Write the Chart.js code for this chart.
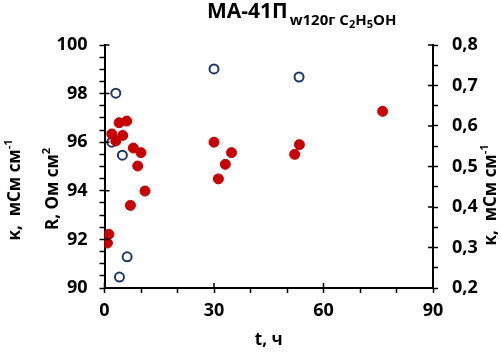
<!DOCTYPE html>
<html>
<head>
<meta charset="utf-8">
<script src="https://cdn.jsdelivr.net/npm/chart.js@4.4.1/dist/chart.umd.min.js"></script>
<style>
  html, body { margin: 0; padding: 0; background: #fff; }
  #wrap { width: 502px; height: 352px; position: relative; }
</style>
</head>
<body>
<div id="wrap"><canvas id="chart"></canvas></div>
<script>
// R, Ом см2 (left axis) vs t, ч
const timeR = [0.8, 1.2, 2.0, 3.1, 4.0, 5.0, 6.1, 7.1, 7.9, 9.1, 10.0, 11.1, 30.0, 31.2, 33.1, 34.8, 52.1, 53.4, 76.2];
const resist = [91.85, 92.21, 96.34, 96.05, 96.80, 96.28, 96.87, 93.40, 95.76, 95.02, 95.57, 93.99, 96.0, 94.49, 95.09, 95.57, 95.50, 95.90, 97.27];

// κ, мСм см-1 (right axis) vs t, ч
const timeK = [2.0, 3.1, 4.1, 4.9, 6.2, 30.0, 53.3];
const kappa = [0.560, 0.681, 0.227, 0.528, 0.277, 0.741, 0.721];

// major tick values
const xMajor = [0, 30, 60, 90];
const yMajor = [90, 92, 94, 96, 98, 100];
const y2Major = [0.2, 0.3, 0.4, 0.5, 0.6, 0.7, 0.8];

const FONT = "'Open Sans', sans-serif";
Chart.defaults.font.family = FONT;
Chart.defaults.color = '#000';

const toPts = (xs, ys) => xs.map((x, i) => ({ x: x, y: ys[i] }));

// title with subscripts, rotated axis labels with superscripts, inner halves of major ticks
const extras = {
    id: 'extras',
    afterDraw(chart) {
        const ctx = chart.ctx;
        const { x, y, y2 } = chart.scales;
        ctx.save();
        ctx.fillStyle = '#000';
        ctx.textBaseline = 'alphabetic';

        // title
        let px = 207;
        ctx.font = 'bold 21px ' + FONT;
        ctx.fillText('МА-41П', px, 18);
        px += ctx.measureText('МА-41П').width + 2;
        const parts = [['w120г C', 15, 25], ['2', 11, 28], ['H', 15, 25], ['5', 11, 28], ['OH', 15, 25]];
        parts.forEach(p => {
            ctx.font = 'bold ' + p[1] + 'px ' + FONT;
            ctx.fillText(p[0], px, p[2]);
            px += ctx.measureText(p[0]).width;
        });

        // rotated label: main text + superscript, centred on (cx, cy)
        const vLabel = (cx, cy, main, sup) => {
            ctx.save();
            ctx.translate(cx, cy);
            ctx.rotate(-Math.PI / 2);
            ctx.textBaseline = 'middle';
            ctx.font = 'bold 17px ' + FONT;
            const w1 = ctx.measureText(main).width;
            ctx.font = 'bold 11px ' + FONT;
            const w2 = ctx.measureText(sup).width;
            ctx.font = 'bold 17px ' + FONT;
            ctx.fillText(main, -(w1 + w2) / 2, 0);
            ctx.font = 'bold 11px ' + FONT;
            ctx.fillText(sup, -(w1 + w2) / 2 + w1, -6);
            ctx.restore();
        };
        vLabel(15, 190, 'κ,  мСм см', '-1');
        vLabel(53, 189, 'R, Ом см', '2');
        vLabel(491, 195, 'κ,  мСм см', '-1');

        // inner halves of major ticks
        ctx.strokeStyle = '#000';
        ctx.lineWidth = 1.5;
        ctx.beginPath();
        xMajor.forEach(v => {
            const p = x.getPixelForValue(v);
            ctx.moveTo(p, chart.chartArea.bottom);
            ctx.lineTo(p, chart.chartArea.bottom - 5);
        });
        yMajor.forEach(v => {
            const p = y.getPixelForValue(v);
            ctx.moveTo(chart.chartArea.left, p);
            ctx.lineTo(chart.chartArea.left + 5, p);
        });
        y2Major.forEach(v => {
            const p = y2.getPixelForValue(v);
            ctx.moveTo(chart.chartArea.right, p);
            ctx.lineTo(chart.chartArea.right - 5, p);
        });
        ctx.stroke();
        ctx.restore();
    }
};

const tickFont = { size: 18, weight: 'bold' };
const titleFont = { size: 17, weight: 'bold' };
const gridOpts = { display: true, drawOnChartArea: false, tickLength: 5, tickWidth: 1.5, tickColor: '#000' };
const borderOpts = { display: true, color: '#000', width: 2 };

new Chart(document.getElementById('chart'), {
    type: 'scatter',
    data: {
        datasets: [
            {
                label: 'R',
                data: toPts(timeR, resist),
                yAxisID: 'y',
                pointRadius: 5,
                pointBorderWidth: 1,
                pointBackgroundColor: '#C80000',
                pointBorderColor: '#C00000'
            },
            {
                label: 'κ',
                data: toPts(timeK, kappa),
                yAxisID: 'y2',
                pointRadius: 4.5,
                pointBorderWidth: 2,
                pointBackgroundColor: '#fff',
                pointBorderColor: '#1F3864'
            }
        ]
    },
    options: {
        responsive: true,
        maintainAspectRatio: false,
        animation: false,
        layout: { padding: { top: 45, left: 0, right: 0, bottom: 0 } },
        plugins: { legend: { display: false }, tooltip: { enabled: false } },
        scales: {
            x: {
                type: 'linear',
                position: 'bottom',
                min: 0,
                max: 90,
                grid: gridOpts,
                border: borderOpts,
                ticks: {
                    stepSize: 10,
                    autoSkip: false,
                    maxRotation: 0,
                    padding: 7,
                    font: tickFont,
                    callback: v => (v % 30 === 0 ? String(v) : '')
                },
                title: { display: true, text: 't, ч', font: titleFont, padding: { top: 0, bottom: 2 } },
                afterFit: s => { s.height = 64; }
            },
            y: {
                type: 'linear',
                position: 'left',
                min: 90,
                max: 100,
                grid: gridOpts,
                border: borderOpts,
                ticks: {
                    stepSize: 0.5,
                    autoSkip: false,
                    padding: 12,
                    font: tickFont,
                    callback: v => (Math.abs(v / 2 - Math.round(v / 2)) < 1e-6 ? String(v) : '')
                },
                afterFit: s => { s.width = 104.5; }
            },
            y2: {
                type: 'linear',
                position: 'right',
                min: 0.2,
                max: 0.8,
                grid: gridOpts,
                border: borderOpts,
                ticks: {
                    stepSize: 0.05,
                    autoSkip: false,
                    padding: 14,
                    font: tickFont,
                    callback: v => (Math.abs(v * 10 - Math.round(v * 10)) < 1e-6 ? v.toFixed(1).replace('.', ',') : '')
                },
                afterFit: s => { s.width = 69; }
            }
        }
    },
    plugins: [extras]
});
</script>
</body>
</html>
